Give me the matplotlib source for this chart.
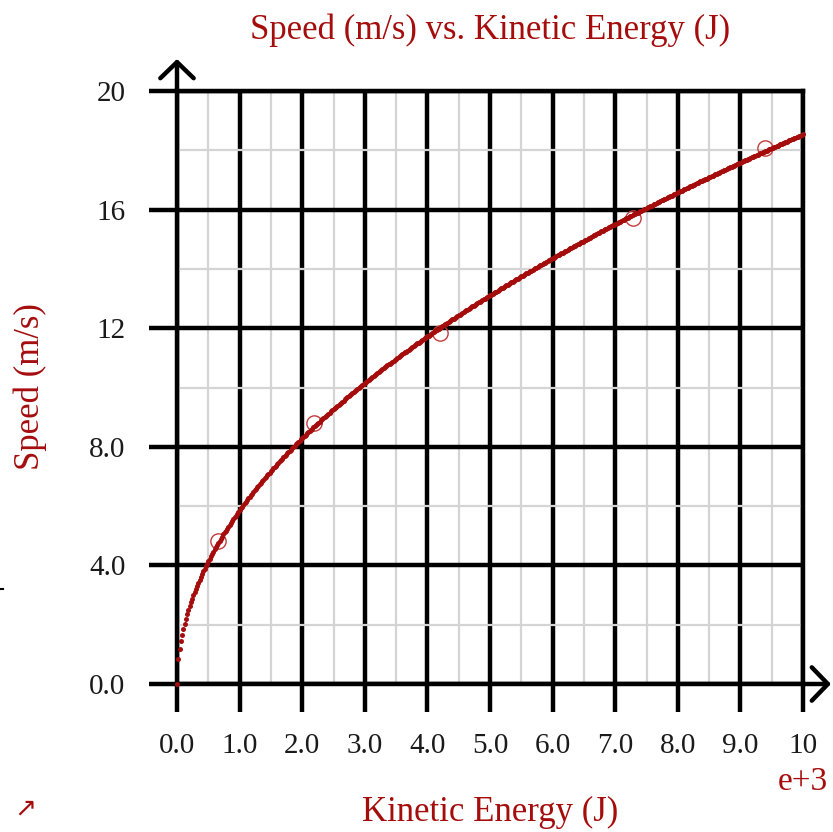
import numpy as np
import matplotlib
matplotlib.use("Agg")
import matplotlib.pyplot as plt
from matplotlib.lines import Line2D

# ---- data ----
energy_j = [655, 2190, 4200, 7280, 9390]          # Kinetic Energy (J)
speed_ms = [4.82, 8.80, 11.84, 15.72, 18.08]      # Speed (m/s)
x_ticks = [0, 1000, 2000, 3000, 4000, 5000, 6000, 7000, 8000, 9000, 10000]
x_tick_labels = ["0.0", "1.0", "2.0", "3.0", "4.0", "5.0", "6.0", "7.0", "8.0", "9.0", "10"]
y_ticks = [0, 4, 8, 12, 16, 20]
y_tick_labels = ["0.0", "4.0", "8.0", "12", "16", "20"]

# fit v = sqrt(2E/m)  ->  v = c*sqrt(E)
E = np.array(energy_j, float)
V = np.array(speed_ms, float)
c = np.sum(V * np.sqrt(E)) / np.sum(E)
E_curve = np.arange(0, 10001, 20)
V_curve = c * np.sqrt(E_curve)

RED = "#a50d0d"
plt.rcParams["font.family"] = ["Liberation Serif", "DejaVu Sans"]

W, H = 833, 832
fig = plt.figure(figsize=(W / 100, H / 100), dpi=100)
ax = fig.add_axes([177 / W, 1 - 684 / H, (803 - 177) / W, (684 - 91) / H])
ax.set_xlim(0, 10000)
ax.set_ylim(0, 20)

ax.set_xticks(x_ticks)
ax.set_xticklabels(x_tick_labels)
ax.set_yticks(y_ticks)
ax.set_yticklabels(y_tick_labels)
ax.set_xticks(np.arange(500, 10000, 1000), minor=True)
ax.set_yticks(np.arange(2, 20, 4), minor=True)

ax.grid(which="minor", color="#d4d4d4", lw=1.6, zorder=0)
ax.grid(which="major", color="black", lw=3.2, zorder=1)
ax.set_axisbelow(True)
for s in ax.spines.values():
    s.set_color("black")
    s.set_linewidth(3.2)
ax.tick_params(which="major", length=20, width=3.2, color="black",
               labelsize=21, labelcolor="#1a1a1a")
ax.tick_params(axis="x", which="major", pad=15)
ax.tick_params(axis="y", which="major", pad=17)
ax.tick_params(which="minor", length=0)

# curve and points
ax.plot(energy_j, speed_ms, "o", ms=11, mfc="none", mec="#c23b3b", mew=1.0, zorder=3)
ax.plot(E_curve, V_curve, "o", ms=3.6, color=RED, mec="none", zorder=4, clip_on=False)

# axis arrows
arrow = dict(arrowstyle="->,head_length=0.58,head_width=0.6", lw=3.2, color="black",
             shrinkA=0, shrinkB=0, mutation_scale=20)
ax.annotate("", xy=(1 + 28 / 626, 0), xytext=(1, 0), xycoords="axes fraction",
            arrowprops=arrow, annotation_clip=False)
ax.annotate("", xy=(0, 1 + 32 / 593), xytext=(0, 1), xycoords="axes fraction",
            arrowprops=arrow, annotation_clip=False)

# texts
fig.text(490 / W, 1 - 30 / H, "Speed (m/s) vs. Kinetic Energy (J)", color=RED,
         fontsize=25, ha="center", va="center")
fig.text(490 / W, 1 - 812 / H, "Kinetic Energy (J)", color=RED,
         fontsize=25, ha="center", va="center")
fig.text(30 / W, 1 - 387 / H, "Speed (m/s)", color=RED, rotation=90,
         fontsize=25, ha="center", va="center")
fig.text(803 / W, 1 - 782 / H, "e+3", color=RED, fontsize=24, ha="center", va="center")
fig.text(25 / W, 1 - 809 / H, "↗", color=RED, fontsize=19, ha="center", va="center",
         family=["DejaVu Sans"])
fig.add_artist(Line2D([0, 3 / W], [1 - 589 / H, 1 - 589 / H], color="black", lw=1.5))

fig.savefig("out.png", dpi=100)
